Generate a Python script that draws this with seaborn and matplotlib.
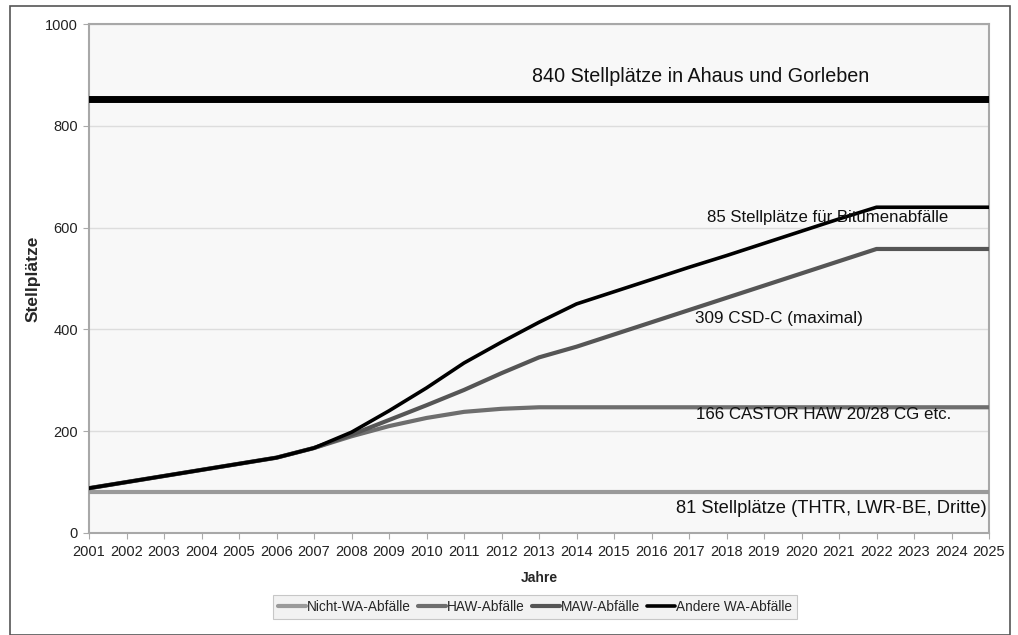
import matplotlib
matplotlib.use("Agg")
import matplotlib.pyplot as plt
import seaborn as sns
import pandas as pd
from matplotlib.patches import Rectangle

years = list(range(2001, 2026))
nicht_wa = [81] * 25
haw = [88, 100, 112, 124, 136, 148, 167, 190, 210, 226, 238, 244, 247, 247, 247,
       247, 247, 247, 247, 247, 247, 247, 247, 247, 247]
maw = [88, 100, 112, 124, 136, 148, 167, 193, 222, 251, 281, 314, 345, 366, 390,
       414, 438, 462, 486, 510, 534, 558, 558, 558, 558]
andere = [88, 100, 112, 124, 136, 148, 167, 198, 240, 285, 334, 375, 414, 450, 474,
          498, 522, 545, 569, 593, 617, 640, 640, 640, 640]
kapazitaet = [852] * 25

series_names = ["Nicht-WA-Abfälle", "HAW-Abfälle", "MAW-Abfälle", "Andere WA-Abfälle"]
series_vals = [nicht_wa, haw, maw, andere]
colors = ["#9a9a9a", "#6e6e6e", "#555555", "#000000"]
widths = [3.0, 3.0, 3.0, 2.6]

annotations = [
    ("840 Stellplätze in Ahaus und Gorleben", 2017.3, 897, 14.2),
    ("85 Stellplätze für Bitumenabfälle", 2020.7, 619, 12.1),
    ("309 CSD-C (maximal)", 2019.4, 421, 12.3),
    ("166 CASTOR HAW 20/28 CG etc.", 2020.6, 232, 12.2),
    ("81 Stellplätze (THTR, LWR-BE, Dritte)", 2020.8, 49, 13.2),
]

sns.set_theme(style="white")
plt.rcParams["font.family"] = ["Liberation Sans", "DejaVu Sans"]

fig = plt.figure(figsize=(10.18, 6.35), dpi=100)
ax = fig.add_axes([89 / 1018, 1 - 533 / 635, 900 / 1018, 509 / 635])
ax.set_facecolor("#f8f8f8")

for name, vals, c, w in zip(series_names, series_vals, colors, widths):
    df = pd.DataFrame({"Jahr": years, "Wert": vals})
    sns.lineplot(data=df, x="Jahr", y="Wert", ax=ax, color=c, linewidth=w,
                 label=name, zorder=3)

df_k = pd.DataFrame({"Jahr": years, "Wert": kapazitaet})
sns.lineplot(data=df_k, x="Jahr", y="Wert", ax=ax, color="black", linewidth=5,
             legend=False, zorder=3)

for txt, x, y, fs in annotations:
    ax.text(x, y, txt, ha="center", va="center", fontsize=fs, color="#111111", zorder=4)

ax.set_xlim(2001, 2025)
ax.set_ylim(0, 1000)
ax.set_xticks(years)
ax.set_xticklabels([str(y) for y in years], fontsize=10.5, color="#222222")
ax.set_yticks([0, 200, 400, 600, 800, 1000])
ax.set_yticklabels(["0", "200", "400", "600", "800", "1000"], fontsize=10.5, color="#222222")
ax.yaxis.grid(True, color="#dddddd", linewidth=1)
ax.xaxis.grid(False)
ax.tick_params(axis="both", which="major", length=4, width=0.8, color="#aaaaaa",
               direction="out", bottom=True, left=True)
ax.tick_params(axis="x", pad=5)
ax.tick_params(axis="y", pad=4)
for s in ax.spines.values():
    s.set_color("#a8a8a8")
    s.set_linewidth(1.5)

ax.set_xlabel("Jahre", fontsize=10, fontweight="bold")
ax.xaxis.set_label_coords(0.5, -(578 - 533) / 509)
ax.xaxis.label.set_va("center")
ax.set_ylabel("Stellplätze", fontsize=12.5, fontweight="bold")
ax.yaxis.set_label_coords((33 - 89) / 900, 0.5)
ax.yaxis.label.set_va("center")

leg = ax.legend(loc="center", bbox_to_anchor=(535 / 1018, 1 - 607 / 635),
                bbox_transform=fig.transFigure, ncol=4, frameon=True, fontsize=9.8,
                handlelength=2.1, handletextpad=0.05, columnspacing=0.5,
                borderpad=0.35, fancybox=False)
leg.get_frame().set_facecolor("#efefef")
leg.get_frame().set_edgecolor("#bbbbbb")
leg.get_frame().set_linewidth(0.8)

fig.patches.append(Rectangle((10 / 1018, 0), 1000 / 1018, 1 - 6 / 635,
                             transform=fig.transFigure, fill=False,
                             edgecolor="#555555", linewidth=1.2))

fig.savefig("out.png", dpi=100, facecolor="white")
